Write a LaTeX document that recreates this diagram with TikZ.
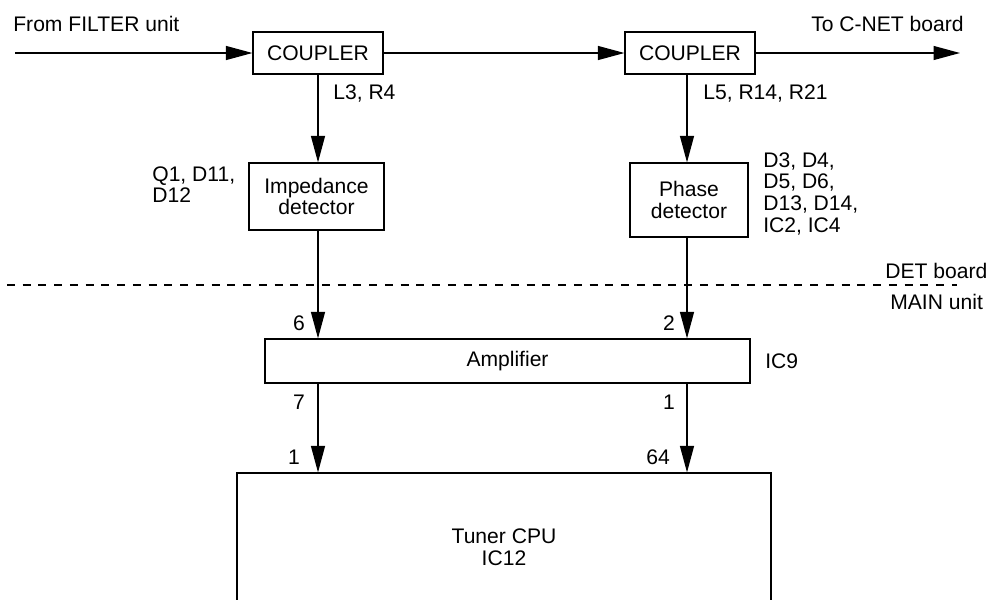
\documentclass[tikz,border=0pt]{standalone}
\usepackage{fontspec}
\setmainfont{Liberation Sans}
\usetikzlibrary{arrows.meta}
\begin{document}
\begin{tikzpicture}[x=0.02cm,y=-0.02cm,
  every node/.style={font={\fontsize{12}{12.4}\selectfont}},
  blk/.style={draw,line width=0.7pt,inner sep=0pt,align=center},
  lbl/.style={inner sep=0pt,align=left},
  arr/.style={line width=0.7pt,-{Triangle[length=0.53cm,width=0.28cm]}},
  sep/.style={line width=0.7pt,dash pattern=on 0.16cm off 0.155cm}]
\useasboundingbox (0,0) rectangle (991,599);
% blocks
\node[blk,minimum width=2.6cm,minimum height=0.84cm] (c1) at (318,53) {COUPLER};
\node[blk,minimum width=2.6cm,minimum height=0.84cm] (c2) at (690,53) {COUPLER};
\node[blk,minimum width=2.7cm,minimum height=1.34cm] (imp) at (316.5,196.5) {Impedance\\detector};
\node[blk,minimum width=2.36cm,minimum height=1.48cm] (ph) at (689,200) {Phase\\detector};
\node[blk,minimum width=9.7cm,minimum height=0.88cm] (amp) at (507.5,361) {Amplifier};
\node[blk,minimum width=10.68cm,minimum height=2.96cm] (cpu) at (504,547) {Tuner CPU\\IC12};
% helper coordinates
\coordinate (inL) at (15,53);
\coordinate (outR) at (960,53);
\coordinate (colL) at (318,0);
\coordinate (colR) at (687,0);
\coordinate (dl) at (7,285);
\coordinate (dr) at (957,285);
% connectors
\draw[arr] (inL) -- (c1.west);
\draw[arr] (c1.east) -- (c2.west);
\draw[arr] (c2.east) -- (outR);
\draw[arr] (c1.south -| colL) -- (imp.north -| colL);
\draw[arr] (c2.south -| colR) -- (ph.north -| colR);
\draw[arr] (imp.south -| colL) -- (amp.north -| colL);
\draw[arr] (ph.south -| colR) -- (amp.north -| colR);
\draw[arr] (amp.south -| colL) -- (cpu.north -| colL);
\draw[arr] (amp.south -| colR) -- (cpu.north -| colR);
\draw[sep] (dl) -- (dr);
% labels
\node[lbl,anchor=west] (tin) at (13,24) {From FILTER unit};
\node[lbl,anchor=west] (tout) at (811,24) {To C-NET board};
\node[lbl,anchor=west] (l1) at (333,93) {L3, R4};
\node[lbl,anchor=west] (l2) at (703,93) {L5, R14, R21};
\node[lbl,anchor=north west] (limp) at (152,166) {Q1, D11,\\D12};
\node[lbl,anchor=north west] (lph) at (763,152) {D3, D4,\\D5, D6,\\D13, D14,\\IC2, IC4};
\node[lbl,anchor=west] (ldet) at (885,271) {DET board};
\node[lbl,anchor=west] (lmain) at (890,302) {MAIN unit};
\node[lbl,anchor=west] (lic9) at (765,361) {IC9};
\node[lbl] (p6) at (299,323) {6};
\node[lbl] (p2) at (669,323) {2};
\node[lbl] (p7) at (299,402) {7};
\node[lbl] (p1a) at (669,402) {1};
\node[lbl] (p1b) at (294,457) {1};
\node[lbl] (p64) at (658,457) {64};
\end{tikzpicture}
\end{document}
